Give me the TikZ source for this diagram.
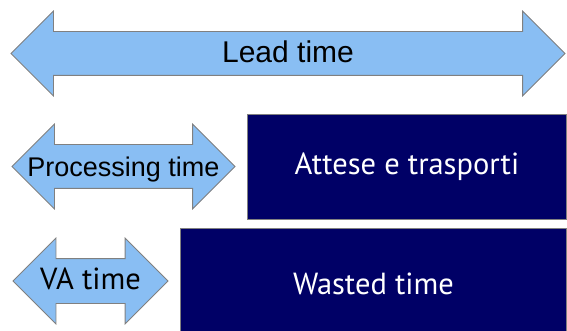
\documentclass[tikz,border=0pt]{standalone}
\usepackage{fontspec}
\setmainfont{Liberation Sans}
\newfontfamily\humanfont{PT Sans}
\usetikzlibrary{shapes.arrows, positioning}

\definecolor{arrowblue}{RGB}{137,190,243}
\definecolor{boxnavy}{RGB}{0,0,102}
\definecolor{edgegrey}{RGB}{128,128,128}

\tikzset{
  timearrow/.style={double arrow, draw=edgegrey, fill=arrowblue, line width=0.8pt,
    inner sep=0pt, double arrow head extend=20.5pt, minimum width=84pt,
    text height=31pt, text depth=12pt},
  wastebox/.style={draw=edgegrey, fill=boxnavy, text=white, line width=0.8pt,
    inner sep=0pt, anchor=north west, font=\humanfont\fontsize{30.5}{36}\selectfont}
}
% label that may run into the arrow heads
\newcommand{\overhead}[1]{\makebox[0pt]{#1}}

\begin{document}
\begin{tikzpicture}[x=1pt, y=-1pt]
  \useasboundingbox (0,0) rectangle (567,331);
  \clip (0,0) rectangle (567,331);
  % arrows on the left
  \node[timearrow, minimum height=554pt, font=\fontsize{30}{36}\selectfont]
    (lead) at (288,53.5) {\overhead{Lead time}};
  \node[timearrow, minimum height=223pt, font=\fontsize{27}{32}\selectfont]
    (processing) at (123.5,166.5) {\overhead{Processing time}};
  \node[timearrow, minimum height=155pt, text height=30pt, text depth=14pt,
    font=\humanfont\fontsize{30.5}{36}\selectfont]
    (va) at (90.5,281) {\overhead{VA time}};
  % waste boxes
  \node[wastebox, minimum width=319pt, minimum height=105pt]
    (attese) at (247,114) {Attese e trasporti};
  \node[wastebox, minimum width=386pt, minimum height=110pt]
    (wasted) at (180,228) {Wasted time};
\end{tikzpicture}
\end{document}
